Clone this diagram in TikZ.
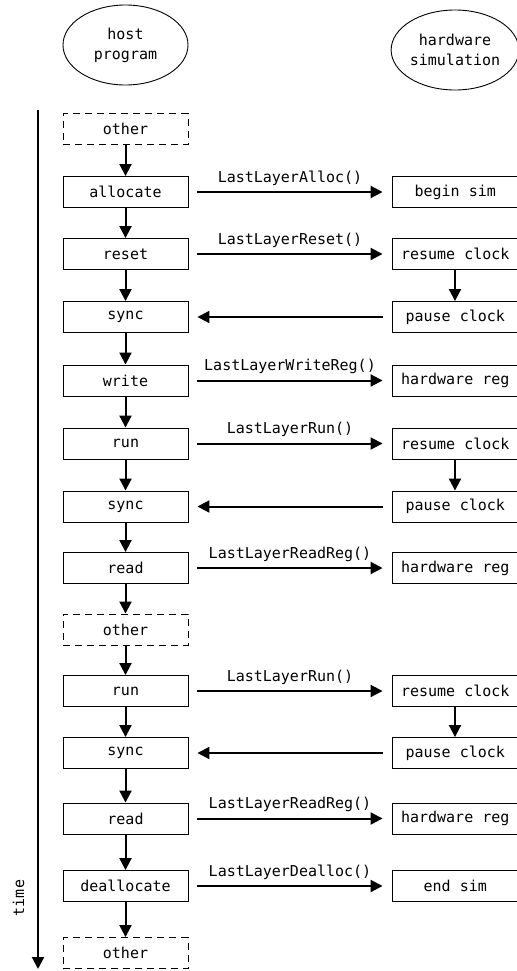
\documentclass[tikz,border=0pt]{standalone}
\usepackage{fontspec}
\newfontfamily\monof{DejaVu Sans Mono}
\usetikzlibrary{arrows.meta,shapes.geometric}
\begin{document}
\begin{tikzpicture}[x=1bp,y=-1bp,
  txt/.style={font=\monof\fontsize{15bp}{20bp}\selectfont},
  lbox/.style={txt,draw,line width=0.9bp,minimum width=125bp,minimum height=31bp,inner sep=0pt},
  rbox/.style={lbox,minimum width=126.5bp},
  obox/.style={lbox,dashed,dash pattern=on 7bp off 5bp},
  ell/.style={txt,draw,ellipse,line width=0.9bp,inner sep=0pt,align=center},
  arr/.style={line width=2bp,-{Triangle[length=12bp,width=12bp]}},
  harr/.style={arr,shorten <=9bp,shorten >=9bp},
  lbl/.style={txt,midway,anchor=base,yshift=10bp,inner sep=0pt}
]
\useasboundingbox (0,0) rectangle (517,971);
% headers
\node[ell,minimum width=125bp,minimum height=80bp] (host) at (125.5,45) {host\\program};
\node[ell,minimum width=123bp,minimum height=80bp] (hw) at (455,50) {hardware\\simulation};
% time axis
\coordinate (tstart) at (38,110);
\coordinate (tend) at (38,969);
\draw[arr] (tstart) -- (tend);
\node[txt,rotate=90] (time) at (18.5,898) {time};
% left column
\node[obox] (o1) at (125.5,129) {other};
\node[lbox] (alloc) at (125.5,192) {allocate};
\node[lbox] (reset) at (125.5,254) {reset};
\node[lbox] (sync1) at (125.5,317) {sync};
\node[lbox] (write) at (125.5,380.5) {write};
\node[lbox] (run1) at (125.5,443.5) {run};
\node[lbox] (sync2) at (125.5,506.5) {sync};
\node[lbox] (read1) at (125.5,568) {read};
\node[obox] (o2) at (125.5,629.5) {other};
\node[lbox] (run2) at (125.5,691) {run};
\node[lbox] (sync3) at (125.5,753) {sync};
\node[lbox] (read2) at (125.5,818.5) {read};
\node[lbox] (dealloc) at (125.5,886) {deallocate};
\node[obox] (o3) at (125.5,953) {other};
% right column
\node[rbox] (begin) at (455.25,192) {begin sim};
\node[rbox] (res1) at (455.25,254) {resume clock};
\node[rbox] (pau1) at (455.25,317) {pause clock};
\node[rbox] (hw1) at (455.25,380.5) {hardware reg};
\node[rbox] (res2) at (455.25,443.5) {resume clock};
\node[rbox] (pau2) at (455.25,506.5) {pause clock};
\node[rbox] (hw2) at (455.25,568) {hardware reg};
\node[rbox] (res3) at (455.25,691) {resume clock};
\node[rbox] (pau3) at (455.25,753) {pause clock};
\node[rbox] (hw3) at (455.25,818.5) {hardware reg};
\node[rbox] (endsim) at (455.25,886) {end sim};
% left vertical arrows
\foreach \a/\b in {o1/alloc,alloc/reset,reset/sync1,sync1/write,write/run1,run1/sync2,sync2/read1,read1/o2,o2/run2,run2/sync3,sync3/read2,read2/dealloc,dealloc/o3}
  \draw[arr] (\a.south) -- (\b.north);
% right vertical arrows
\draw[arr] (res1.south -| 455,0) -- (pau1.north -| 455,0);
\draw[arr] (res2.south -| 455,0) -- (pau2.north -| 455,0);
\draw[arr] (res3.south -| 455,0) -- (pau3.north -| 455,0);
% horizontal arrows
\draw[harr] (alloc.east) -- (begin.west) node[lbl] {LastLayerAlloc()};
\draw[harr] (reset.east) -- (res1.west) node[lbl] {LastLayerReset()};
\draw[harr] (pau1.west) -- (sync1.east);
\draw[harr] (write.east) -- (hw1.west) node[lbl] {LastLayerWriteReg()};
\draw[harr] (run1.east) -- (res2.west) node[lbl] {LastLayerRun()};
\draw[harr] (pau2.west) -- (sync2.east);
\draw[harr] (read1.east) -- (hw2.west) node[lbl] {LastLayerReadReg()};
\draw[harr] (run2.east) -- (res3.west) node[lbl] {LastLayerRun()};
\draw[harr] (pau3.west) -- (sync3.east);
\draw[harr] (read2.east) -- (hw3.west) node[lbl] {LastLayerReadReg()};
\draw[harr] (dealloc.east) -- (endsim.west) node[lbl] {LastLayerDealloc()};
\end{tikzpicture}
\end{document}
